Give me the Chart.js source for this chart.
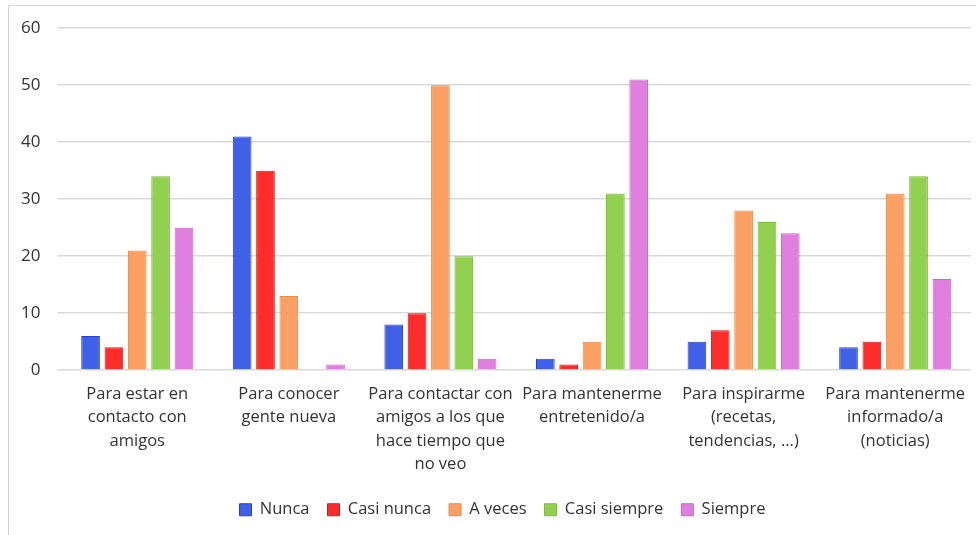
<!DOCTYPE html>
<html>
<head>
<meta charset="utf-8">
<script src="https://cdn.jsdelivr.net/npm/chart.js@4/dist/chart.umd.min.js"></script>
<style>
  html, body { margin: 0; padding: 0; background: #fff; }
  #frame {
    position: absolute; left: 8px; top: 5px; width: 975px; height: 540px;
    border: 1px solid #d4d4d4; box-sizing: border-box; overflow: hidden;
  }
  #wrap { position: absolute; left: 0; top: -5px; width: 962px; height: 533px; }
</style>
</head>
<body>
<div id="frame"><div id="wrap"><canvas id="chart"></canvas></div></div>
<script>
const categories = [
  ['Para estar en', 'contacto con', 'amigos'],
  ['Para conocer', 'gente nueva'],
  ['Para contactar con', 'amigos a los que', 'hace tiempo que', 'no veo'],
  ['Para mantenerme', 'entretenido/a'],
  ['Para inspirarme', '(recetas,', 'tendencias, ...)'],
  ['Para mantenerme', 'informado/a', '(noticias)']
];
const nunca = [6, 41, 8, 2, 5, 4];
const casiNunca = [4, 35, 10, 1, 7, 5];
const aVeces = [21, 13, 50, 5, 28, 31];
const casiSiempre = [34, 0, 20, 31, 26, 34];
const siempre = [25, 1, 2, 51, 24, 16];
const yTicks = [0, 10, 20, 30, 40, 50, 60];

const font = "'Open Sans', 'Liberation Sans', sans-serif";

function series(label, data, fill, line) {
  return {
    label: label, data: data,
    backgroundColor: fill, borderColor: line, borderWidth: 1,
    barPercentage: 0.8, categoryPercentage: 0.77
  };
}

// the legend sits a little right of centre in the original
const nudgeLegend = {
  id: 'nudgeLegend',
  afterLayout(chart) {
    if (chart.legend) { chart.legend.left += 15; chart.legend.right += 15; }
  }
};

new Chart(document.getElementById('chart'), {
  type: 'bar',
  data: {
    labels: categories,
    datasets: [
      series('Nunca', nunca, '#4060E8', '#2840C8'),
      series('Casi nunca', casiNunca, '#FF2C2C', '#D81818'),
      series('A veces', aVeces, '#F9A062', '#E88A48'),
      series('Casi siempre', casiSiempre, '#92D050', '#7CBA3C'),
      series('Siempre', siempre, '#E080DE', '#C868C6')
    ]
  },
  options: {
    responsive: true,
    maintainAspectRatio: false,
    animation: false,
    layout: { padding: { left: -5, right: 0, top: 10, bottom: 6 } },
    plugins: {
      tooltip: { enabled: false },
      legend: {
        position: 'bottom',
        labels: {
          boxWidth: 12, boxHeight: 12, padding: 18,
          color: '#333', font: { family: font, size: 16.5 }
        }
      }
    },
    scales: {
      x: {
        grid: { display: false },
        border: { display: false },
        afterFit: function(scale) { scale.height += 3; },
        ticks: {
          color: '#333', autoSkip: false, maxRotation: 0, padding: 4,
          font: { family: font, size: 16.5, lineHeight: 1.43 }
        }
      },
      y: {
        min: 0, max: 60,
        afterBuildTicks: function(axis) { axis.ticks = yTicks.map(v => ({ value: v })); },
        grid: { color: '#d9d9d9', lineWidth: 1.5, drawTicks: true, tickLength: 4 },
        border: { display: false },
        ticks: {
          color: '#333', padding: 17,
          font: { family: font, size: 17 }
        }
      }
    }
  },
  plugins: [nudgeLegend]
});
</script>
</body>
</html>
